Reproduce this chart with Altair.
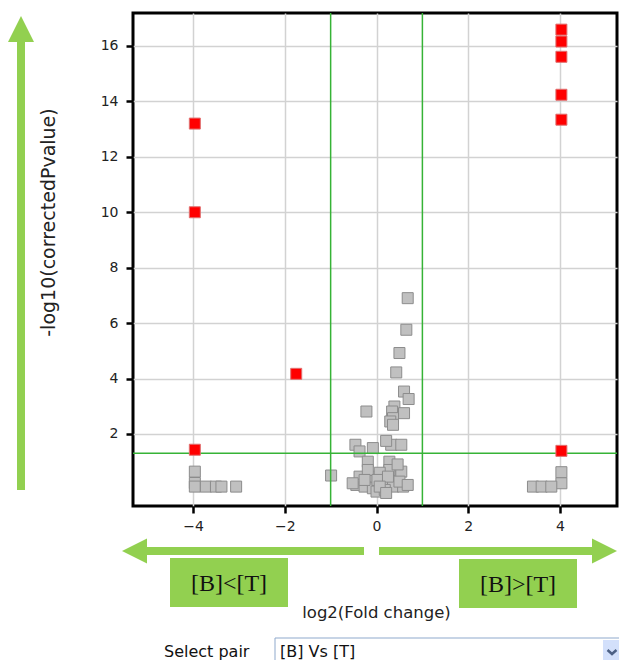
import altair as alt
import pandas as pd

# ---- data ----
gray_x = [-3.96, -3.96, -3.96, -3.72, -3.5, -3.38, -3.06,
          4.03, 4.03, 3.41, 3.6, 3.81,
          0.68, 0.65, 0.5, 0.43, 0.6, 0.7, -0.22, 0.39, 0.6, 0.34, 0.36, 0.3, 0.36,
          -0.46, -0.08, 0.32, 0.54, -0.37, 0.21,
          -0.19, 0.28, -0.37, -0.12, 0.14, 0.39, 0.54, -0.44, -0.26, -0.08, 0.18,
          0.36, 0.58, 0.0, 0.18, -0.19, 0.28, 0.07, 0.46, -0.26, 0.02, 0.25, 0.5,
          0.68, -0.52, 0.07, 0.21, -0.99]
gray_y = [0.64, 0.23, 0.1, 0.1, 0.1, 0.1, 0.1,
          0.62, 0.22, 0.1, 0.1, 0.1,
          6.9, 5.76, 4.92, 4.22, 3.53, 3.26, 2.81, 2.99, 2.75, 2.81, 2.57, 2.45, 2.33,
          1.61, 1.49, 1.61, 1.61, 1.37, 1.75,
          1.0, 1.0, 0.46, 0.46, 0.46, 0.46, 0.64, 0.16, 0.1, 0.04, 0.22,
          0.1, 0.1, -0.08, -0.02, 0.7, 0.7, 0.6, 0.9, 0.34, 0.34, 0.46, 0.28,
          0.16, 0.22, 0.1, -0.13, 0.5]
red_x = [-3.96, -3.96, -3.96, -1.75, 4.03, 4.03, 4.03, 4.03, 4.03, 4.03]
red_y = [13.2, 10.0, 1.43, 4.17, 16.59, 16.16, 15.61, 14.24, 13.34, 1.39]

fc_cut = [-1, 1]
p_cut = [1.3]
x_ticks = [-4, -2, 0, 2, 4]
y_ticks = [2, 4, 6, 8, 10, 12, 14, 16]

GREEN = "#92d050"
LINE_GREEN = "#36b336"

gray = pd.DataFrame({"fc": gray_x, "p": gray_y})
red = pd.DataFrame({"fc": red_x, "p": red_y})
vl = pd.DataFrame({"fc": fc_cut})
hl = pd.DataFrame({"p": p_cut})
one = pd.DataFrame({"a": [0]})

xs = alt.Scale(domain=[-5.308, 5.242], nice=False, zero=False)
ys = alt.Scale(domain=[-0.6, 17.19], nice=False, zero=False)

xax = alt.Axis(values=x_ticks, title="log2(Fold change)", titleX=243, titleY=106,
               titleBaseline="middle", titleAlign="center", titleFontSize=16.5)
yax = alt.Axis(values=y_ticks, title="-log10(correctedPvalue)", titleX=-85, titleY=209,
               titleAngle=270, titleBaseline="middle", titleAlign="center",
               titleFontSize=19)

pts_gray = alt.Chart(gray).mark_square(size=121, color="#c0c0c0", stroke="#8c8c8c",
                                       strokeWidth=1, opacity=1).encode(
    x=alt.X("fc:Q", scale=xs, axis=xax),
    y=alt.Y("p:Q", scale=ys, axis=yax),
)
pts_red = alt.Chart(red).mark_square(size=121, color="#ff0000", stroke="#e07070",
                                     strokeWidth=1, opacity=1).encode(
    x=alt.X("fc:Q", scale=xs),
    y=alt.Y("p:Q", scale=ys),
)
vrules = alt.Chart(vl).mark_rule(color=LINE_GREEN, strokeWidth=1.5).encode(
    x=alt.X("fc:Q", scale=xs))
hrules = alt.Chart(hl).mark_rule(color=LINE_GREEN, strokeWidth=1.5).encode(
    y=alt.Y("p:Q", scale=ys))

# ---- decorations (arrows, labelled boxes, select box) ----
def rule(x, x2, y, y2, **kw):
    return alt.Chart(one).mark_rule(**kw).encode(
        x=alt.value(x), x2=alt.value(x2), y=alt.value(y), y2=alt.value(y2))

def head(x, y, shape, size):
    return alt.Chart(one).mark_point(shape=shape, filled=True, size=size, color=GREEN,
                                     opacity=1).encode(x=alt.value(x), y=alt.value(y))

def box(x, x2, y, y2, **kw):
    return alt.Chart(one).mark_rect(**kw).encode(
        x=alt.value(x), x2=alt.value(x2), y=alt.value(y), y2=alt.value(y2))

def txt(x, y, s, **kw):
    return alt.Chart(one).mark_text(**kw).encode(
        x=alt.value(x), y=alt.value(y), text=alt.value(s))

deco = [
    rule(-112, -112, 29, 477, color=GREEN, strokeWidth=8),
    head(-112, 16, "M-1,1L0,-1L1,1Z", 676),
    rule(14, 231, 538, 538, color=GREEN, strokeWidth=8),
    head(1.5, 538, "M1,-1L-1,0L1,1Z", 625),
    rule(246, 460, 538, 538, color=GREEN, strokeWidth=8),
    head(471.5, 538, "M-1,-1L1,0L-1,1Z", 625),
    box(37, 155, 545, 594, color=GREEN),
    box(326, 444, 546, 595, color=GREEN),
    txt(96, 571, "[B]<[T]", font="Liberation Serif", fontSize=24, color="#111"),
    txt(385, 572, "[B]>[T]", font="Liberation Serif", fontSize=24, color="#111"),
    txt(31, 639, "Select pair", font="DejaVu Sans", fontSize=16, color="#111",
        align="left", baseline="middle"),
    box(142, 500, 625, 670, fill="white", stroke="#8fa9cc", strokeWidth=1),
    box(470, 500, 627, 670, fill="#d3e0fb"),
    txt(147, 639, "[B] Vs [T]", font="DejaVu Sans", fontSize=16, color="#111",
        align="left", baseline="middle"),
    alt.Chart(one).mark_point(shape="M-1,-0.45L0,0.45L1,-0.45", filled=False, size=80,
                              color="#4d6185", strokeWidth=2.5, opacity=1).encode(
        x=alt.value(479), y=alt.value(639)),
]

chart = alt.layer(pts_gray, vrules, hrules, pts_red, *deco).properties(
    width=484, height=493,
    autosize=alt.AutoSizeParams(type="none"),
    padding={"left": 125, "top": 5, "right": 2, "bottom": 154},
).configure_view(stroke="black", strokeWidth=3).configure_axis(
    domain=False, grid=True, gridColor="#d2d2d2", gridWidth=1.5,
    tickColor="black", tickWidth=2.5, tickSize=7,
    labelFont="DejaVu Sans", labelFontSize=14, labelColor="#222",
    titleFont="DejaVu Sans", titleFontSize=16, titleColor="#222", titleFontWeight="normal",
).configure_axisX(labelPadding=6).configure_axisY(labelPadding=8)

chart.save("out.html", embed_options={"renderer": "svg", "actions": False})
